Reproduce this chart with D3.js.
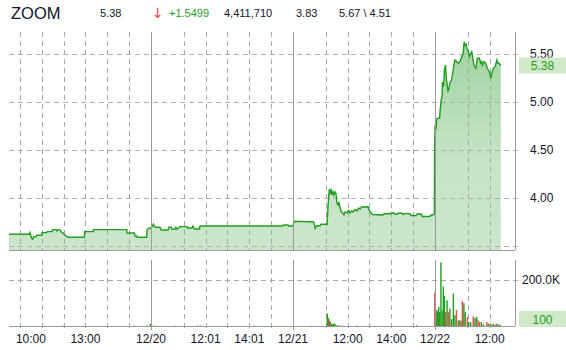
<!DOCTYPE html>
<html>
<head>
<meta charset="utf-8">
<script src="https://cdn.jsdelivr.net/npm/d3@7"></script>
<style>
  body { margin: 0; background: #fff; }
  text { font-family: Arial, "Liberation Sans", sans-serif; fill: #14142b; }
</style>
</head>
<body>
<script>
// header
var headTexts = ["ZOOM", "5.38", "\u2193", "+1.5499", "4,411,710", "3.83", "5.67 \\ 4.51"];

// price series: t = session hours since 12/19 09:30 (6.5 h per day)
var priceT = [0, 0.92, 0.96, 1.01, 1.07, 1.11, 1.14, 1.24, 1.26, 1.50, 1.51, 1.73, 1.74, 1.98, 1.99, 2.15, 2.2, 2.24, 2.33, 2.38, 2.49, 2.54, 2.71, 3.45, 3.46, 3.86, 3.87, 5.39, 5.40, 5.74, 5.77, 5.85, 5.86, 6.30, 6.32, 6.41, 6.5,
  6.61, 6.68, 6.91, 6.96, 7.28, 7.32, 7.42, 7.46, 7.60, 7.64, 7.69, 7.83, 8.15, 8.17, 8.38, 8.42, 8.49, 8.72, 8.74, 12.54, 12.56, 12.77, 12.79, 13.0,
  13.05, 13.32, 13.92, 13.96, 14.01, 14.08, 14.24, 14.28, 14.56, 14.60, 14.66, 14.69, 14.74, 14.78, 14.83, 14.87, 14.92, 14.97, 15.01, 15.06, 15.10, 15.15, 15.19, 15.27, 15.33,
  15.38, 15.47, 15.54, 15.61, 15.68, 15.75, 15.84, 15.93, 16.0, 16.07, 16.13, 16.43, 16.48, 16.57, 16.64, 17.12, 17.17, 17.44, 17.49, 17.62, 17.67, 17.76, 17.81, 17.99, 18.04, 18.17, 18.36, 18.40, 18.63, 18.68, 18.86, 18.91, 19.27, 19.32, 19.41, 19.47,
  19.48, 19.50, 19.55, 19.57, 19.61, 19.71, 19.73, 19.78, 19.82, 19.84, 19.89, 19.93, 19.98, 20.02, 20.05, 20.09, 20.14, 20.18, 20.26, 20.34, 20.41, 20.49, 20.57, 20.64, 20.72, 20.79, 20.83, 20.87, 20.92, 20.96, 21.01, 21.07, 21.13, 21.18, 21.22, 21.28, 21.37, 21.44, 21.53, 21.59, 21.64, 21.68, 21.74, 21.83, 21.89, 21.99, 22.05, 22.10, 22.17, 22.25, 22.33, 22.37, 22.43, 22.51];
var priceV = [3.622, 3.622, 3.64, 3.597, 3.570, 3.58, 3.597, 3.597, 3.611, 3.611, 3.639, 3.639, 3.649, 3.649, 3.670, 3.67, 3.656, 3.67, 3.67, 3.649, 3.632, 3.615, 3.591, 3.591, 3.649, 3.649, 3.67, 3.67, 3.635, 3.635, 3.604, 3.604, 3.591, 3.591, 3.667, 3.684, 3.684,
  3.726, 3.695, 3.695, 3.667, 3.667, 3.695, 3.695, 3.674, 3.674, 3.695, 3.674, 3.701, 3.701, 3.6875, 3.6875, 3.708, 3.677, 3.677, 3.708, 3.708, 3.719, 3.719, 3.708, 3.708,
  3.757, 3.755, 3.753, 3.74, 3.684, 3.711, 3.711, 3.726, 3.726, 3.909, 4.091, 4.052, 4.083, 4.031, 4.066, 4.031, 4.0625, 4.042, 3.948, 3.927, 3.958, 3.906, 3.865, 3.844, 3.823,
  3.854, 3.844, 3.870, 3.844, 3.865, 3.854, 3.880, 3.865, 3.896, 3.885, 3.906, 3.909, 3.875, 3.844, 3.828, 3.823, 3.835, 3.835, 3.844, 3.844, 3.831, 3.831, 3.841, 3.841, 3.828, 3.839, 3.833, 3.818, 3.818, 3.833, 3.833, 3.807, 3.807, 3.823, 3.823, 3.833,
  4.5, 4.76, 4.708, 4.813, 4.83, 4.833, 4.899, 5.021, 5.055, 5.208, 5.159, 5.333, 5.385, 5.229, 5.198, 5.107, 5.146, 5.198, 5.229, 5.351, 5.4375, 5.42, 5.403, 5.42, 5.472, 5.507, 5.628, 5.594, 5.604, 5.559, 5.542, 5.472, 5.507, 5.524, 5.472, 5.385, 5.351, 5.455, 5.455, 5.403, 5.42, 5.385, 5.42, 5.403, 5.351, 5.316, 5.247, 5.299, 5.351, 5.368, 5.4375, 5.403, 5.403, 5.38];

// volume bars (t, shares, 1 = up / 0 = down)
var volT = [2.47, 5.72, 6.32, 6.47, 6.55, 6.68, 7.60, 8.65, 8.77, 11.21,
  13.86, 14.57, 14.62, 14.66, 14.71, 14.75, 14.80, 14.86, 14.92, 15.01, 15.11, 15.24, 15.92, 16.52, 18.66,
  19.49, 19.53, 19.58, 19.62, 19.67, 19.71, 19.77, 19.82, 19.88, 19.93, 19.99, 20.05, 20.11, 20.18, 20.26, 20.34, 20.41, 20.48, 20.57, 20.64, 20.70, 20.75, 20.82, 20.88, 20.98, 21.04, 21.13, 21.25, 21.33, 21.41, 21.47, 21.53, 21.62, 21.71, 21.87, 21.94, 22.02, 22.10, 22.17, 22.25, 22.33, 22.40, 22.48];
var volV = [2000, 2000, 2000, 9000, 2000, 1500, 1500, 2000, 2000, 2000,
  1500, 54000, 35000, 25000, 18000, 8000, 8000, 11000, 9000, 4000, 3000, 2000, 2000, 2000, 3000,
  146000, 50000, 70000, 60000, 83000, 60000, 277000, 69000, 171000, 132000, 61000, 112000, 60000, 76000, 30000, 142000, 47000, 69000, 25000, 25000, 20000, 108000, 100000, 61000, 38000, 17000, 17000, 42000, 35000, 39000, 25000, 17000, 17000, 8000, 17000, 10000, 10000, 6000, 10000, 6000, 10000, 6000, 6000];
var volUp = [1, 0, 1, 1, 0, 0, 0, 1, 1, 0,
  0, 1, 1, 0, 1, 0, 1, 1, 1, 0, 1, 0, 1, 0, 1,
  0, 1, 1, 1, 1, 1, 1, 1, 1, 1, 0, 1, 0, 1, 1, 1, 1, 0, 1, 1, 0, 0, 1, 1, 0, 1, 1, 0, 1, 1, 0, 0, 1, 1, 0, 1, 0, 1, 1, 0, 1, 0, 1];

// axes
var gridT = [0.5, 1.5, 2.5, 3.5, 4.5, 5.5, 8, 9, 10, 11, 12, 14.5, 15.5, 16.5, 17.5, 18.5, 21, 22];
var dayT = [6.5, 13, 19.5];
var labelT = [0.5, 3.5, 6.5, 9, 11, 13, 15.5, 17.5, 19.5, 22];
var labelText = ["10:00", "13:00", "12/20", "12:01", "14:01", "12/21", "12:00", "14:00", "12/22", "12:00"];
var priceTicks = [4, 4.5, 5, 5.5];
var priceGrid = [3.5, 4, 4.5, 5, 5.5];
var volTicks = [200000];
var lastPrice = "5.38";
var lastVol = "100";

var width = 566, height = 350;
var left = 9, right = 515;
var mainTop = 32, mainBot = 250;
var volTop = 260, volBot = 326;

var svg = d3.select("body").append("svg")
    .attr("width", width)
    .attr("height", height);

var x = d3.scaleLinear().domain([0, 23.16]).range([left, right]);
var y = d3.scaleLinear().domain([3.458, 5.729]).range([mainBot, mainTop]);
var yv = d3.scaleLinear().domain([0, 287500]).range([volBot, volTop]);

var prices = priceT.map((t, i) => ({t: t, v: priceV[i]}));
var vols = volT.map((t, i) => ({t: t, v: volV[i], up: volUp[i]}));

var green = "#1f9e1f", red = "#f04848", gridCol = "#a8a8a8";

// gradient for the area
var grad = svg.append("defs").append("linearGradient")
    .attr("id", "areaGrad")
    .attr("gradientUnits", "userSpaceOnUse")
    .attr("x1", 0).attr("y1", mainTop).attr("x2", 0).attr("y2", mainBot);
grad.append("stop").attr("offset", "0%").attr("stop-color", "#9fd29f");
grad.append("stop").attr("offset", "60%").attr("stop-color", "#c6e4c6");
grad.append("stop").attr("offset", "100%").attr("stop-color", "#cbe6cb");

// header
var headX = [11, 100, 152, 169, 224, 296, 339];
var headCol = ["#14142b", "#14142b", red, green, "#14142b", "#14142b", "#14142b"];
svg.selectAll("text.head")
    .data(headTexts)
    .enter().append("text")
    .attr("class", "head")
    .attr("x", (d, i) => headX[i])
    .attr("y", (d, i) => i == 0 ? 19 : (i == 2 ? 18 : 17))
    .style("font-size", (d, i) => i == 0 ? "16.5px" : (i == 2 ? "14px" : "11px"))
    .style("font-family", (d, i) => i == 2 ? "'DejaVu Sans', sans-serif" : null)
    .style("fill", (d, i) => headCol[i])
    .text(d => d);

// area + line
svg.append("path")
    .datum(prices)
    .attr("fill", "url(#areaGrad)")
    .attr("d", d3.area().x(d => x(d.t)).y0(mainBot).y1(d => y(d.v)));

// grid
var grid = svg.append("g").attr("stroke", gridCol).attr("stroke-dasharray", "5,4").attr("fill", "none");
grid.selectAll("line.hg")
    .data(priceGrid).enter().append("line")
    .attr("x1", left).attr("x2", right + 5)
    .attr("y1", d => Math.round(y(d)) + 0.5).attr("y2", d => Math.round(y(d)) + 0.5)
    .attr("stroke-opacity", 0.9);
grid.selectAll("line.vg")
    .data(volTicks).enter().append("line")
    .attr("x1", left).attr("x2", right + 5)
    .attr("y1", d => Math.round(yv(d)) + 0.5).attr("y2", d => Math.round(yv(d)) + 0.5);
grid.selectAll("line.xm")
    .data(gridT).enter().append("line")
    .attr("x1", d => Math.round(x(d)) + 0.5).attr("x2", d => Math.round(x(d)) + 0.5)
    .attr("y1", mainTop).attr("y2", mainBot);
grid.selectAll("line.xv")
    .data(gridT).enter().append("line")
    .attr("x1", d => Math.round(x(d)) + 0.5).attr("x2", d => Math.round(x(d)) + 0.5)
    .attr("y1", volTop).attr("y2", volBot + 4);

svg.append("path")
    .datum(prices)
    .attr("fill", "none")
    .attr("stroke", green)
    .attr("stroke-width", 1.4)
    .attr("d", d3.line().x(d => x(d.t)).y(d => y(d.v)));

// volume bars
svg.selectAll("rect.vol")
    .data(vols).enter().append("rect")
    .attr("class", "vol")
    .attr("x", d => x(d.t) - 0.7)
    .attr("width", 1.4)
    .attr("y", d => yv(d.v))
    .attr("height", d => volBot - yv(d.v))
    .attr("fill", d => d.up ? green : red);

// day separators & frame
var frame = svg.append("g").attr("stroke", "#9a9a9a").attr("stroke-width", 1);
frame.selectAll("line.day")
    .data(dayT).enter().append("line")
    .attr("x1", d => Math.round(x(d)) + 0.5).attr("x2", d => Math.round(x(d)) + 0.5)
    .attr("y1", mainTop).attr("y2", mainBot);
frame.selectAll("line.dayv")
    .data(dayT).enter().append("line")
    .attr("x1", d => Math.round(x(d)) + 0.5).attr("x2", d => Math.round(x(d)) + 0.5)
    .attr("y1", volTop).attr("y2", volBot + 4);
frame.append("line").attr("x1", left).attr("x2", right).attr("y1", mainBot + 0.5).attr("y2", mainBot + 0.5);
frame.append("line").attr("x1", left).attr("x2", right).attr("y1", volBot + 0.5).attr("y2", volBot + 0.5);
frame.append("line").attr("x1", right + 0.5).attr("x2", right + 0.5).attr("y1", mainTop).attr("y2", mainBot);
frame.append("line").attr("x1", right + 0.5).attr("x2", right + 0.5).attr("y1", volTop).attr("y2", volBot);

// y axes (right)
var yAxis = d3.axisRight(y).tickValues(priceTicks).tickSize(0).tickPadding(15).tickFormat(d3.format(".2f"));
var gy = svg.append("g").attr("transform", "translate(" + right + ",0)").call(yAxis);
gy.select(".domain").remove();
gy.selectAll("text").style("font-size", "12px").style("fill", "#14142b").style("font-family", null);

var yvAxis = d3.axisRight(yv).tickValues(volTicks).tickSize(0).tickPadding(7).tickFormat(d => (d / 1000).toFixed(1) + "K");
var gyv = svg.append("g").attr("transform", "translate(" + right + ",0)").call(yvAxis);
gyv.select(".domain").remove();
gyv.selectAll("text").style("font-size", "12px").style("fill", "#14142b").style("font-family", null);

// x labels
svg.selectAll("text.xl")
    .data(labelText).enter().append("text")
    .attr("class", "xl")
    .attr("x", (d, i) => i == 0 ? x(labelT[i]) - 4 : x(labelT[i]))
    .attr("y", 342.5)
    .attr("text-anchor", (d, i) => i == 0 ? "start" : "middle")
    .style("font-size", "12px")
    .text(d => d);

// last value boxes
var py = y(+lastPrice);
svg.append("rect").attr("x", 519).attr("y", py - 8).attr("width", 47).attr("height", 16).attr("fill", "#cfe9c9");
svg.append("text").attr("x", 542.5).attr("y", py + 4.5).attr("text-anchor", "middle")
    .style("font-size", "12px").style("fill", green).text(lastPrice);
var vy = Math.min(yv(+lastVol), volBot - 7);
svg.append("rect").attr("x", 519).attr("y", vy - 8).attr("width", 47).attr("height", 16).attr("fill", "#cfe9c9");
svg.append("text").attr("x", 542.5).attr("y", vy + 4.5).attr("text-anchor", "middle")
    .style("font-size", "12px").style("fill", green).text(lastVol);
</script>
</body>
</html>
